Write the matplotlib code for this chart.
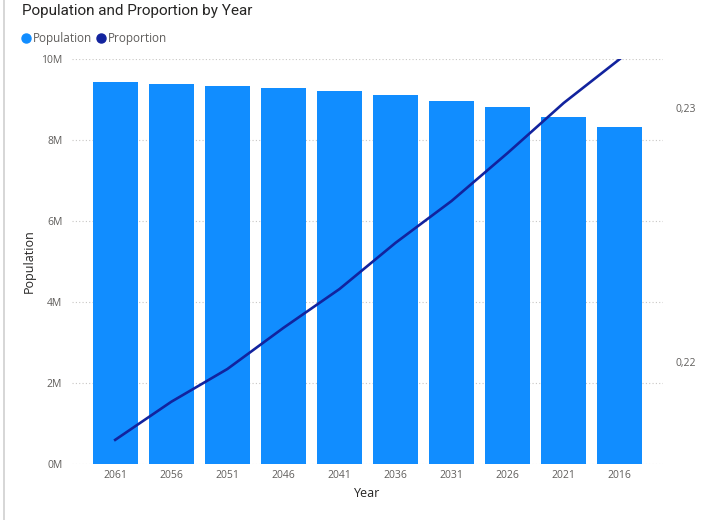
import matplotlib.pyplot as plt
from matplotlib.lines import Line2D
from matplotlib.ticker import FuncFormatter

# values
years = ["2061", "2056", "2051", "2046", "2041", "2036", "2031", "2026", "2021", "2016"]
population = [9.43e6, 9.38e6, 9.33e6, 9.28e6, 9.21e6, 9.11e6, 8.96e6, 8.81e6, 8.57e6, 8.32e6]
proportion = [0.21693, 0.21843, 0.21972, 0.22134, 0.22287, 0.22469, 0.22634, 0.22823, 0.23020, 0.23193]

bar_color = "#118DFF"
line_color = "#12239E"
text_dark = "#252423"
text_gray = "#605E5C"

plt.rcParams['font.family'] = ['Open Sans', 'DejaVu Sans']

fig = plt.figure(figsize=(7.08, 5.2), dpi=100)
ax = fig.add_axes([0.1017, 0.1077, 0.8347, 0.7788])

x = range(len(years))
ax.bar(x, population, width=0.8, color=bar_color, zorder=2)
ax.set_xlim(-0.77, 9.77)
ax.set_ylim(0, 10e6)
ax.set_yticks([0, 2e6, 4e6, 6e6, 8e6, 10e6])
ax.yaxis.set_major_formatter(FuncFormatter(lambda v, p: f"{int(round(v / 1e6))}M"))
ax.set_xticks(list(x))
ax.set_xticklabels(years)
ax.grid(axis='y', color="#C8C6C4", linestyle=(0, (1, 2)), linewidth=0.8, zorder=0)
ax.tick_params(axis='both', length=0, labelsize=7.5, labelcolor=text_gray)
ax.tick_params(axis='y', pad=7)
ax.tick_params(axis='x', pad=4)
for s in ax.spines.values():
    s.set_visible(False)
ax.set_xlabel("Year", fontsize=9, color=text_dark, labelpad=5)
ax.set_ylabel("Population", fontsize=9, color=text_dark, labelpad=4)

# proportion on a second axis
ax2 = ax.twinx()
ax2.plot(list(x), proportion, color=line_color, linewidth=1.9, zorder=3)
ax2.set_ylim(0.21598, 0.23193)
ax2.set_yticks([0.22, 0.23])
ax2.yaxis.set_major_formatter(FuncFormatter(lambda v, p: f"{v:.2f}".replace(".", ",")))
ax2.tick_params(axis='y', length=0, labelsize=7.5, labelcolor=text_gray, pad=9)
for s in ax2.spines.values():
    s.set_visible(False)

# title and legend
fig.text(0.031, 0.992, "Population and Proportion by Year", fontsize=11, color=text_dark,
         ha='left', va='top', family=['Roboto', 'DejaVu Sans'])
handles = [Line2D([], [], marker='o', linestyle='', markersize=6.5, color=bar_color),
           Line2D([], [], marker='o', linestyle='', markersize=6.5, color=line_color)]
fig.legend(handles, ["Population", "Proportion"], loc='upper left', bbox_to_anchor=(0.024, 0.947),
           ncol=2, frameon=False, fontsize=8.5, handlelength=0.7, handletextpad=0.25,
           columnspacing=0.4, labelcolor=text_gray, borderaxespad=0)

# light border of the visual
fig.add_artist(Line2D([0.006, 0.006], [0, 1], transform=fig.transFigure, color="#D0D0D0", linewidth=1.2))

fig.savefig("out.png", dpi=100)
